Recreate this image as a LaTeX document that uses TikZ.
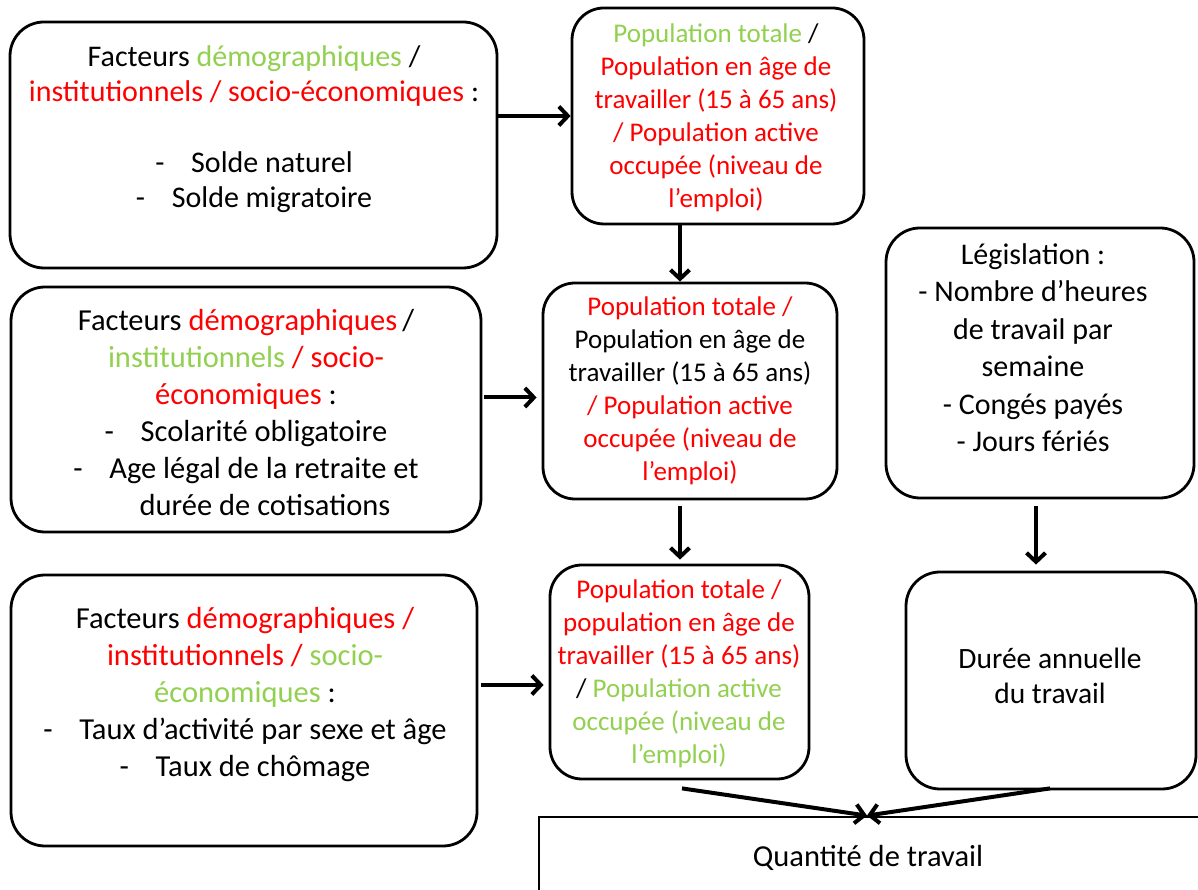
\documentclass[tikz,border=0pt]{standalone}
\usepackage{fontspec}
\setmainfont{Carlito}
\usetikzlibrary{arrows.meta,calc}
\definecolor{lgreen}{RGB}{146,208,80}
\definecolor{hred}{RGB}{255,0,0}
\newcommand\tgreen[1]{\textcolor{lgreen}{#1}}
\newcommand\tred[1]{\textcolor{hred}{#1}}
\newcommand\dashitem[1]{\makebox[36pt][l]{-}#1}

\begin{document}
\begin{tikzpicture}[x=1pt,y=1pt,
  box/.style={draw=black, line width=2.8pt, rounded corners=34pt, inner sep=0pt},
  sqbox/.style={draw=black, line width=2.8pt, inner sep=0pt},
  txt/.style={align=center, inner sep=0pt, font=\fontsize{30.5}{36}\selectfont},
  txtB/.style={align=center, inner sep=0pt, font=\fontsize{27}{33}\selectfont},
  link/.style={line width=4pt, -{Straight Barb[length=9pt,width=19pt]}},
]
\useasboundingbox[fill=white] (0,0) rectangle (1198,890);

% frames
\node[box, minimum width=487pt, minimum height=246pt] (a1) at (253.5,745) {};
\node[box, rounded corners=32pt, minimum width=292pt, minimum height=216pt] (b1) at (718,774) {};
\node[box, minimum width=470pt, minimum height=245pt] (a2) at (246,480.5) {};
\node[box, rounded corners=32pt, minimum width=294pt, minimum height=216pt] (b2) at (690,499) {};
\node[box, minimum width=308pt, minimum height=270pt] (leg) at (1040,527) {};
\node[box, minimum width=466pt, minimum height=271pt] (a3) at (244,179.5) {};
\node[box, rounded corners=32pt, minimum width=259pt, minimum height=214pt] (b3) at (679.5,218) {};
\node[box, minimum width=290pt, minimum height=217pt] (dur) at (1051,209.5) {};
\node[sqbox, minimum width=670pt, minimum height=90pt] (qty) at (874,28) {};

% texts
\node[txt, font=\fontsize{30}{35.5}\selectfont] (a1t) at (254,761) {Facteurs \tgreen{démographiques} /\\
  \tred{institutionnels / socio-économiques} :\\[35pt]
  \dashitem{Solde naturel}\\
  \dashitem{Solde migratoire}};
\node[txtB] (b1t) at (716,772.5) {\tgreen{Population totale} /\\
  \tred{Population en âge de}\\
  \tred{travailler (15 à 65 ans)}\\
  \tred{/ Population active}\\
  \tred{occupée (niveau de}\\
  \tred{l’emploi)}};
\node[txt, font=\fontsize{30.5}{37}\selectfont] (a2t) at (246,477) {Facteurs \tred{démographiques}\,/\\
  \tgreen{institutionnels} \tred{/ socio-}\\
  \tred{économiques} :\\
  \dashitem{Scolarité obligatoire}\\
  \dashitem{Age légal de la retraite et}\\
  \hspace*{38pt}durée de cotisations};
\node[txtB] (b2t) at (690,499) {\tred{Population totale /}\\
  Population en âge de\\
  travailler (15 à 65 ans)\\
  \tred{/ Population active}\\
  \tred{occupée (niveau de}\\
  \tred{l’emploi)}};
\node[txt, font=\fontsize{30}{37.5}\selectfont] (legt) at (1033,542.5) {Législation :\\
  - Nombre d’heures\\
  de travail par\\
  semaine\\
  - Congés payés\\
  - Jours fériés};
\node[txt, font=\fontsize{30.5}{37}\selectfont] (a3t) at (245,195) {Facteurs \tred{démographiques /}\\
  \tred{institutionnels /} \tgreen{socio-}\\
  \tgreen{économiques} :\\
  \dashitem{Taux d’activité par sexe et âge}\\
  \dashitem{Taux de chômage}};
\node[txtB] (b3t) at (679,216) {\tred{Population totale /}\\
  \tred{population en âge de}\\
  \tred{travailler (15 à 65 ans)}\\
  / \tgreen{Population active}\\
  \tgreen{occupée (niveau de}\\
  \tgreen{l’emploi)}};
\node[txt, font=\fontsize{29.5}{35}\selectfont] (durt) at (1050,214.5) {Durée annuelle\\du travail};
\node[txt, font=\fontsize{30.5}{36}\selectfont] (qtyt) at (868,32) {Quantité de travail};

% connectors
\draw[link] (a1.east |- b1.west) -- (b1.west);
\draw[link] ([xshift=-38pt]b1.south) -- ([xshift=-38pt]b1.south |- b2.north);
\draw[link, shorten <=2pt, shorten >=5pt] ([yshift=12pt]a2.east) -- ([yshift=12pt]a2.east -| b2.west);
\draw[link, shorten >=4pt] ([xshift=-10pt,yshift=-6pt]b2.south) -- ([xshift=-10pt]b2.south |- b3.north);
\draw[link, shorten >=6pt] ([xshift=-4pt,yshift=-7pt]leg.south) -- ([xshift=-4pt]leg.south |- dur.north);
\draw[link, shorten <=3pt, shorten >=5pt] ([yshift=25.5pt]a3.east) -- ([yshift=25.5pt]a3.east -| b3.west);
\draw[link] ([xshift=2.5pt,yshift=-8pt]b3.south) -- ([xshift=-7pt]qty.north);
\draw[link] ([xshift=-1pt,yshift=2pt]dur.south) -- ([xshift=-7pt]qty.north);
\end{tikzpicture}
\end{document}
